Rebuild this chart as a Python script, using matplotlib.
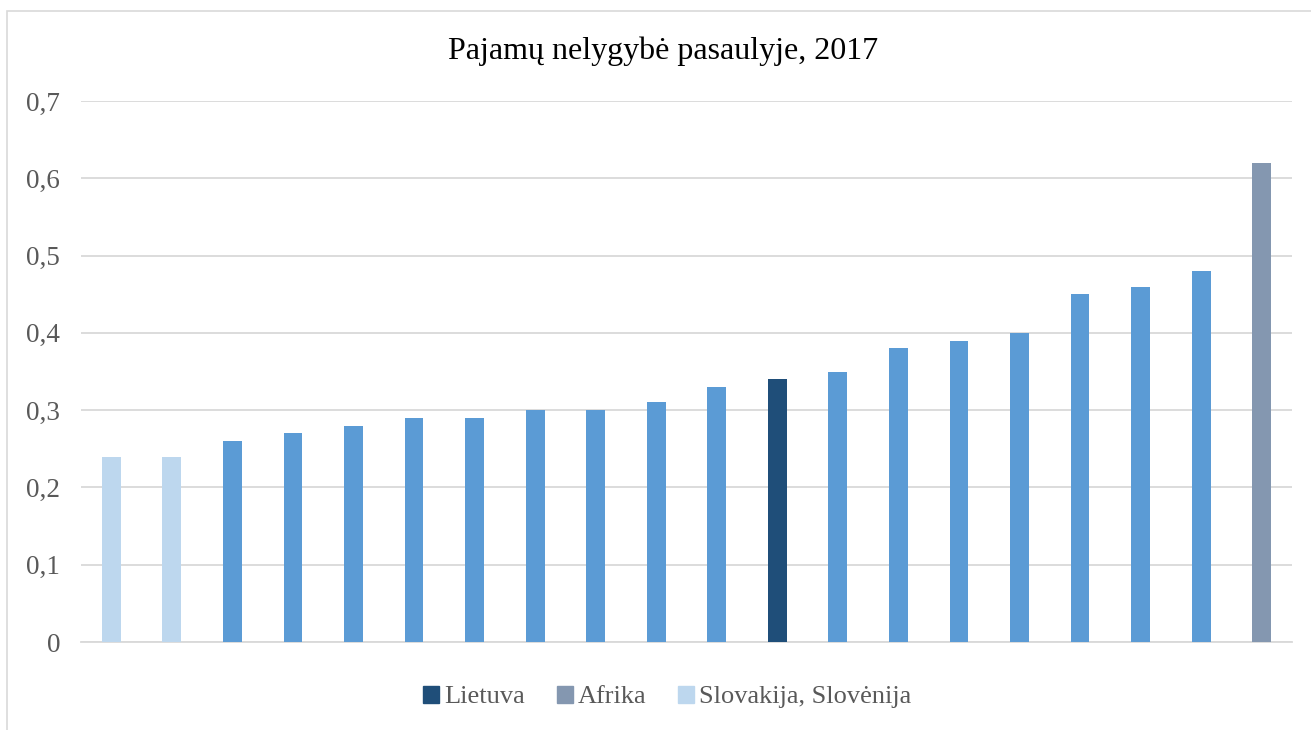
import matplotlib.pyplot as plt
from matplotlib.patches import Rectangle, Patch

plt.rcParams["font.family"] = ["Liberation Serif", "DejaVu Serif"]

# Gini koeficientai (nuo mažiausio iki didžiausio)
values = [0.24, 0.24, 0.26, 0.27, 0.28, 0.29, 0.29, 0.30, 0.30, 0.31,
          0.33, 0.34, 0.35, 0.38, 0.39, 0.40, 0.45, 0.46, 0.48, 0.62]
groups = ["svk", "svk", "", "", "", "", "", "", "", "",
          "", "lt", "", "", "", "", "", "", "", "af"]
yticks = [0, 0.1, 0.2, 0.3, 0.4, 0.5, 0.6, 0.7]
ytick_labels = ["0", "0,1", "0,2", "0,3", "0,4", "0,5", "0,6", "0,7"]

color_map = {"": "#5B9BD5", "lt": "#1F4E79", "af": "#8497B0", "svk": "#BDD7EE"}
text_color = "#595959"

fig = plt.figure(figsize=(13.11, 7.30), dpi=100)
ax = fig.add_axes([0.0618, 0.1205, 0.9237, 0.7411])

x = range(len(values))
ax.bar(x, values, width=0.31, color=[color_map[g] for g in groups], zorder=3)

ax.set_xlim(-0.5, len(values) - 0.5)
ax.set_ylim(0, 0.7)
ax.set_yticks(yticks)
ax.set_yticklabels(ytick_labels, fontsize=19.5, color=text_color)
ax.set_xticks([])
ax.tick_params(axis="y", length=0, pad=15)
ax.grid(axis="y", color="#D9D9D9", linewidth=1.3, zorder=0)
for s in ["top", "right", "left"]:
    ax.spines[s].set_visible(False)
ax.spines["bottom"].set_color("#D9D9D9")
ax.spines["bottom"].set_linewidth(1.3)

fig.text(0.506, 0.93, "Pajamų nelygybė pasaulyje, 2017", ha="center", va="center",
         fontsize=23, color="black")

handles = [Patch(color=color_map["lt"], label="Lietuva"),
           Patch(color=color_map["af"], label="Afrika"),
           Patch(color=color_map["svk"], label="Slovakija, Slovėnija")]
leg = fig.legend(handles=handles, loc="center", bbox_to_anchor=(0.509, 0.045),
                 ncol=3, frameon=False, fontsize=19, handlelength=0.6, handleheight=0.6,
                 handletextpad=0.2, columnspacing=1.2)
for t in leg.get_texts():
    t.set_color(text_color)

# rėmelis aplink diagramą
fig.patches.append(Rectangle((7 / 1311, -0.05), 1.1, (730 - 11) / 730 + 0.05,
                             transform=fig.transFigure, fill=False,
                             edgecolor="#D9D9D9", linewidth=1.2))

fig.savefig("out.png", dpi=100)
